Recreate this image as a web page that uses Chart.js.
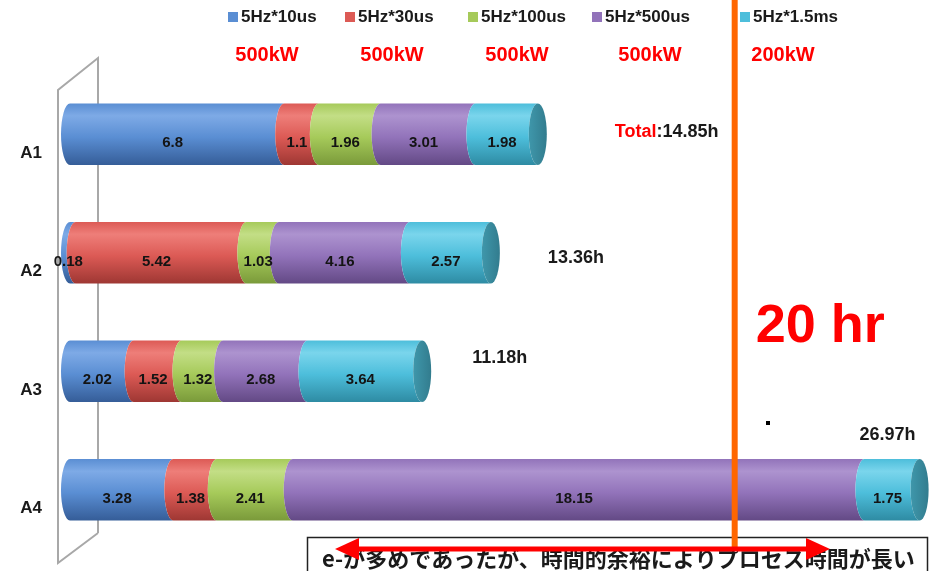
<!DOCTYPE html>
<html>
<head>
<meta charset="utf-8">
<script src="https://cdn.jsdelivr.net/npm/chart.js@4/dist/chart.umd.min.js"></script>
<style>
  html, body { margin: 0; padding: 0; background: #fff; }
</style>
</head>
<body>
<canvas id="myChart" width="932" height="571"></canvas>
<script>
// --- Data ---
const categories = ['A1', 'A2', 'A3', 'A4'];
const seriesNames = ['5Hz*10us', '5Hz*30us', '5Hz*100us', '5Hz*500us', '5Hz*1.5ms'];
const powerLabels = ['500kW', '500kW', '500kW', '500kW', '200kW'];
const s10us = [6.8, 0.18, 2.02, 3.28];
const s30us = [1.1, 5.42, 1.52, 1.38];
const s100us = [1.96, 1.03, 1.32, 2.41];
const s500us = [3.01, 4.16, 2.68, 18.15];
const s1500us = [1.98, 2.57, 3.64, 1.75];
const markerHours = 21.1;
const markerText = '20 hr';
const noteText = 'e-が多めであったが、時間的余裕によりプロセス時間が長い';

const seriesValues = [s10us, s30us, s100us, s500us, s1500us];

// cylinder colours: light highlight, base, dark shade
const palette = [
    { light: '#7eaae6', base: '#5a8ed3', dark: '#355d98' },
    { light: '#ee7e79', base: '#dc5a55', dark: '#9e3733' },
    { light: '#c3de86', base: '#a6ca5a', dark: '#7a9a3a' },
    { light: '#ad93cf', base: '#9273ba', dark: '#634985' },
    { light: '#7ad5ec', base: '#4dbedb', dark: '#2e8ba3' }
];

const totals = categories.map((c, j) => seriesValues.reduce((s, arr) => s + arr[j], 0));

const RX = 9;

function segPath(ctx, x0, x1, top, bot) {
    const cy = (top + bot) / 2, ry = (bot - top) / 2;
    ctx.beginPath();
    ctx.moveTo(x0, top);
    ctx.lineTo(x1, top);
    ctx.ellipse(x1, cy, RX, ry, 0, -Math.PI / 2, Math.PI / 2, true);
    ctx.lineTo(x0, bot);
    ctx.ellipse(x0, cy, RX, ry, 0, Math.PI / 2, -Math.PI / 2, false);
    ctx.closePath();
}

const cylinderPlugin = {
    id: 'cylinders',
    beforeDatasetsDraw(chart) {
        // back wall
        const ctx = chart.ctx;
        ctx.save();
        ctx.strokeStyle = '#a8a8a8';
        ctx.lineWidth = 2;
        ctx.beginPath();
        ctx.moveTo(98, 533); ctx.lineTo(98, 58); ctx.lineTo(58, 90);
        ctx.lineTo(58, 563); ctx.lineTo(98, 533);
        ctx.stroke();
        ctx.restore();
    },
    afterDatasetsDraw(chart) {
        const ctx = chart.ctx;
        ctx.save();
        const nSeries = chart.data.datasets.length;
        for (let j = 0; j < categories.length; j++) {
            let lastEl = null;
            for (let i = 0; i < nSeries; i++) {
                const el = chart.getDatasetMeta(i).data[j];
                const p = el.getProps(['x', 'y', 'base', 'height'], true);
                const top = p.y - p.height / 2, bot = p.y + p.height / 2;
                const g = ctx.createLinearGradient(0, top, 0, bot);
                g.addColorStop(0, palette[i].base);
                g.addColorStop(0.2, palette[i].light);
                g.addColorStop(0.55, palette[i].base);
                g.addColorStop(1, palette[i].dark);
                segPath(ctx, p.base, p.x, top, bot);
                ctx.fillStyle = g;
                ctx.fill();
                lastEl = p;
            }
            // end cap
            const top = lastEl.y - lastEl.height / 2, bot = lastEl.y + lastEl.height / 2;
            const cg = ctx.createLinearGradient(lastEl.x - RX, 0, lastEl.x + RX, 0);
            cg.addColorStop(0, '#3f97ab');
            cg.addColorStop(1, '#327c8e');
            ctx.beginPath();
            ctx.ellipse(lastEl.x, lastEl.y, RX, (bot - top) / 2, 0, 0, Math.PI * 2);
            ctx.fillStyle = cg;
            ctx.fill();
        }
        // value labels
        ctx.font = 'bold 15px "Liberation Sans", Arial, sans-serif';
        ctx.fillStyle = '#141414';
        ctx.textAlign = 'center';
        ctx.textBaseline = 'middle';
        for (let i = 0; i < nSeries; i++) {
            chart.getDatasetMeta(i).data.forEach((el, j) => {
                const p = el.getProps(['x', 'y', 'base'], true);
                ctx.fillText(String(seriesValues[i][j]), (p.base + p.x) / 2 - RX / 2, p.y + 9);
            });
        }
        ctx.restore();
    },
    afterDraw(chart) {
        const ctx = chart.ctx;
        const xs = chart.scales.x;
        const ys = chart.scales.y;
        ctx.save();

        // legend
        const legendX = [228, 345, 468, 592, 740];
        const powerX = [267, 392, 517, 650, 783];
        ctx.textBaseline = 'middle';
        seriesNames.forEach((name, i) => {
            ctx.fillStyle = palette[i].base;
            ctx.fillRect(legendX[i], 12, 10, 10);
            ctx.fillStyle = '#1a1a1a';
            ctx.textAlign = 'left';
            ctx.font = 'bold 17px "Liberation Sans", Arial, sans-serif';
            ctx.fillText(name, legendX[i] + 13, 17);
            ctx.fillStyle = '#ff0000';
            ctx.font = 'bold 20px "Liberation Sans", Arial, sans-serif';
            ctx.textAlign = 'center';
            ctx.fillText(powerLabels[i], powerX[i], 55);
        });

        // totals
        const totalPos = [
            { dx: 77, dy: 3, align: 'left' },
            { dx: 57, dy: 10, align: 'left' },
            { dx: 50, dy: -8, align: 'left' },
            { dx: -4, dy: -50, align: 'right' }
        ];
        ctx.font = 'bold 18px "Liberation Sans", Arial, sans-serif';
        ctx.textBaseline = 'alphabetic';
        totals.forEach((t, j) => {
            const x = xs.getPixelForValue(t) + totalPos[j].dx;
            const y = ys.getPixelForValue(j) + totalPos[j].dy;
            const txt = t.toFixed(2) + 'h';
            ctx.textAlign = totalPos[j].align;
            if (j === 0) {
                ctx.textAlign = 'left';
                ctx.fillStyle = '#ff0000';
                ctx.fillText('Total', x, y);
                const w = ctx.measureText('Total').width;
                ctx.fillStyle = '#1a1a1a';
                ctx.fillText(':' + txt, x + w, y);
            } else {
                ctx.fillStyle = '#1a1a1a';
                ctx.fillText(txt, x, y);
            }
        });

        // small dot
        ctx.fillStyle = '#000';
        ctx.fillRect(766, 421, 4, 4);

        // note box
        ctx.fillStyle = '#fff';
        ctx.fillRect(307, 537, 621, 40);
        ctx.strokeStyle = '#222';
        ctx.lineWidth = 1.5;
        ctx.strokeRect(307.5, 537.5, 620, 40);
        ctx.fillStyle = '#1a1a1a';
        ctx.font = 'bold 22px "Noto Sans CJK JP", sans-serif';
        ctx.textAlign = 'left';
        ctx.textBaseline = 'alphabetic';
        ctx.fillText(noteText, 322, 567);

        // orange marker line
        const mx = xs.getPixelForValue(markerHours);
        ctx.fillStyle = '#ff6600';
        ctx.fillRect(mx - 3, 0, 6, 550);

        // 20 hr
        ctx.fillStyle = '#ff0000';
        ctx.font = 'bold 54px "Liberation Sans", Arial, sans-serif';
        ctx.fillText(markerText, mx + 21, 342);

        // red double arrow
        const ay = 549, ax0 = 335, ax1 = 830;
        ctx.strokeStyle = '#ff0000';
        ctx.lineWidth = 5;
        ctx.beginPath();
        ctx.moveTo(ax0 + 15, ay); ctx.lineTo(ax1 - 15, ay);
        ctx.stroke();
        ctx.fillStyle = '#ff0000';
        ctx.beginPath();
        ctx.moveTo(ax0, ay); ctx.lineTo(ax0 + 24, ay - 11); ctx.lineTo(ax0 + 24, ay + 11); ctx.closePath();
        ctx.fill();
        ctx.beginPath();
        ctx.moveTo(ax1, ay); ctx.lineTo(ax1 - 24, ay - 11); ctx.lineTo(ax1 - 24, ay + 11); ctx.closePath();
        ctx.fill();

        ctx.restore();
    }
};

const ctx = document.getElementById('myChart').getContext('2d');
new Chart(ctx, {
    type: 'bar',
    data: {
        labels: categories,
        datasets: seriesNames.map((name, i) => ({
            label: name,
            data: seriesValues[i],
            backgroundColor: 'rgba(0,0,0,0)',
            borderWidth: 0,
            barPercentage: 0.52,
            categoryPercentage: 1
        }))
    },
    options: {
        indexAxis: 'y',
        responsive: false,
        animation: false,
        devicePixelRatio: 1,
        layout: { padding: { top: 75, bottom: 22, left: 0, right: 2 } },
        plugins: {
            legend: { display: false },
            tooltip: { enabled: false }
        },
        scales: {
            x: {
                stacked: true,
                display: false,
                min: 0,
                max: 27.3
            },
            y: {
                stacked: true,
                grid: { display: false, drawTicks: false },
                border: { display: false },
                ticks: {
                    color: '#1a1a1a',
                    font: { family: '"Liberation Sans", Arial, sans-serif', size: 17, weight: 'bold' },
                    padding: 28,
                    labelOffset: 19
                },
                afterFit(scale) {
                    scale.width = 70;
                    scale.paddingTop = 0;
                    scale.paddingBottom = 0;
                }
            }
        }
    },
    plugins: [cylinderPlugin]
});
</script>
</body>
</html>
